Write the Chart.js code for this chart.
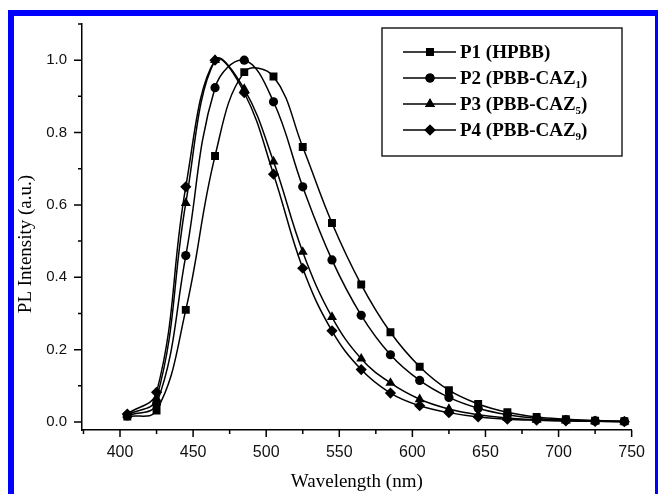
<!DOCTYPE html>
<html>
<head>
<meta charset="utf-8">
<script src="https://cdn.jsdelivr.net/npm/chart.js@4/dist/chart.umd.min.js"></script>
<style>
  html, body { margin: 0; padding: 0; background: #fff; overflow: hidden; }
  #wrap { position: relative; width: 658px; height: 494px; }
  #frame { position: absolute; left: 8px; top: 10px; width: 641px; height: 500px; border: 6px solid #0000ff; border-bottom: none; z-index: 2; pointer-events: none; box-sizing: content-box; }
  canvas { position: absolute; left: 0; top: 0; }
</style>
</head>
<body>
<div id="wrap">
  <canvas id="c" width="658" height="494"></canvas>
  <div id="frame"></div>
</div>
<script>
// ---- data ----
const wavelengths = [405, 425, 445, 465, 485, 505, 525, 545, 565, 585, 605, 625, 645, 665, 685, 705, 725, 745];
const p1 = [0.015, 0.032, 0.31, 0.735, 0.967, 0.955, 0.76, 0.55, 0.38, 0.248, 0.153, 0.088, 0.05, 0.027, 0.014, 0.008, 0.004, 0.002];
const p2 = [0.017, 0.05, 0.46, 0.924, 1.0, 0.885, 0.65, 0.448, 0.295, 0.186, 0.115, 0.068, 0.038, 0.02, 0.01, 0.006, 0.003, 0.002];
const p3 = [0.02, 0.065, 0.605, 1.0, 0.92, 0.72, 0.47, 0.29, 0.175, 0.108, 0.063, 0.036, 0.02, 0.011, 0.006, 0.004, 0.002, 0.001];
const p4 = [0.022, 0.082, 0.65, 1.0, 0.91, 0.685, 0.425, 0.252, 0.145, 0.08, 0.045, 0.026, 0.014, 0.008, 0.005, 0.003, 0.002, 0.001];
const seriesNames = ['P1 (HPBB)', 'P2 (PBB-CAZ', 'P3 (PBB-CAZ', 'P4 (PBB-CAZ'];
const seriesSubs = ['', '1', '5', '9'];
const xTickValues = [400, 450, 500, 550, 600, 650, 700, 750];
const xMinorValues = [375, 425, 475, 525, 575, 625, 675, 725];
const yTickValues = [0.0, 0.2, 0.4, 0.6, 0.8, 1.0];
const yMinorValues = [0.1, 0.3, 0.5, 0.7, 0.9, 1.1];
const xTitle = 'Wavelength (nm)';
const yTitle = 'PL Intensity (a.u.)';

const styles = [
  { pointStyle: 'rect', radius: 5.6 },
  { pointStyle: 'circle', radius: 4.6 },
  { pointStyle: 'triangle', radius: 5.8 },
  { pointStyle: 'rectRot', radius: 5.6 }
];

const allSeries = [p1, p2, p3, p4];
const datasets = allSeries.map((vals, i) => ({
  label: seriesNames[i] + seriesSubs[i] + (seriesSubs[i] ? ')' : ''),
  data: wavelengths.map((w, k) => ({ x: w, y: vals[k] })),
  borderColor: '#000',
  backgroundColor: '#000',
  borderWidth: 1.5,
  pointStyle: styles[i].pointStyle,
  pointRadius: styles[i].radius,
  pointBorderWidth: 0,
  pointBackgroundColor: '#000',
  tension: 0.4,
  fill: false
}));

const CA = { left: 82, right: 646, top: 17, bottom: 430 };

const extras = {
  id: 'extras',
  afterDraw(chart) {
    const ctx = chart.ctx;
    const xs = chart.scales.x, ys = chart.scales.y;
    ctx.save();
    ctx.strokeStyle = '#000';
    ctx.lineWidth = 1.5;
    ctx.beginPath();
    xTickValues.forEach(v => { const px = xs.getPixelForValue(v); ctx.moveTo(px, ys.bottom); ctx.lineTo(px, ys.bottom + 7); });
    xMinorValues.forEach(v => { const px = xs.getPixelForValue(v); ctx.moveTo(px, ys.bottom); ctx.lineTo(px, ys.bottom + 4); });
    yTickValues.forEach(v => { const py = ys.getPixelForValue(v); ctx.moveTo(xs.left, py); ctx.lineTo(xs.left - 8, py); });
    yMinorValues.forEach(v => { const py = ys.getPixelForValue(v); ctx.moveTo(xs.left, py); ctx.lineTo(xs.left - 4, py); });
    ctx.stroke();

    // axis titles
    ctx.fillStyle = '#000';
    ctx.font = '19px "Liberation Serif", "Times New Roman", serif';
    ctx.textAlign = 'center';
    ctx.textBaseline = 'alphabetic';
    ctx.fillText(xTitle, (xs.left + xs.right) / 2, 487);
    ctx.save();
    ctx.translate(31, 244);
    ctx.rotate(-Math.PI / 2);
    ctx.fillText(yTitle, 0, 0);
    ctx.restore();

    // legend
    const bx = 382, by = 28, bw = 240, bh = 128;
    ctx.lineWidth = 1.5;
    ctx.strokeStyle = '#222';
    ctx.strokeRect(bx, by, bw, bh);
    const rows = [52, 78, 104, 130];
    rows.forEach((ry, i) => {
      ctx.strokeStyle = '#000';
      ctx.lineWidth = 1.5;
      ctx.beginPath(); ctx.moveTo(403, ry); ctx.lineTo(456, ry); ctx.stroke();
      ctx.fillStyle = '#000';
      Chart.helpers.drawPoint(ctx, { pointStyle: styles[i].pointStyle, radius: styles[i].radius, borderWidth: 0 }, 430, ry);
      ctx.fill();
      ctx.textAlign = 'left';
      ctx.font = 'bold 19px "Liberation Serif", "Times New Roman", serif';
      const base = ry + 6;
      ctx.fillText(seriesNames[i], 460, base);
      if (seriesSubs[i]) {
        let x = 460 + ctx.measureText(seriesNames[i]).width;
        ctx.font = 'bold 11px "Liberation Serif", "Times New Roman", serif';
        ctx.fillText(seriesSubs[i], x, base + 4);
        x += ctx.measureText(seriesSubs[i]).width;
        ctx.font = 'bold 19px "Liberation Serif", "Times New Roman", serif';
        ctx.fillText(')', x, base);
      }
    });
    ctx.restore();
  }
};

new Chart(document.getElementById('c'), {
  type: 'line',
  data: { datasets },
  options: {
    responsive: false,
    animation: false,
    events: [],
    layout: { padding: { left: 0, right: 658 - CA.right, top: CA.top, bottom: 0 } },
    plugins: { legend: { display: false }, tooltip: { enabled: false }, title: { display: false } },
    scales: {
      x: {
        type: 'linear',
        min: 374, max: 750,
        afterBuildTicks: s => { s.ticks = xTickValues.map(v => ({ value: v })); },
        afterFit: s => { s.height = 494 - CA.bottom; },
        grid: { display: false, drawTicks: false },
        border: { display: true, color: '#000', width: 1.5 },
        ticks: { color: '#111', padding: 13, maxRotation: 0, autoSkip: false, font: { family: '"Liberation Sans", Arial, sans-serif', size: 16 }, callback: v => String(v) }
      },
      y: {
        type: 'linear',
        min: -0.022, max: 1.1,
        afterBuildTicks: s => { s.ticks = yTickValues.map(v => ({ value: v })); },
        afterFit: s => { s.width = CA.left; },
        grid: { display: false, drawTicks: false },
        border: { display: true, color: '#000', width: 1.5 },
        ticks: { color: '#111', padding: 15, autoSkip: false, font: { family: '"Liberation Sans", Arial, sans-serif', size: 15 }, callback: v => v.toFixed(1) }
      }
    }
  },
  plugins: [extras]
});
</script>
</body>
</html>
